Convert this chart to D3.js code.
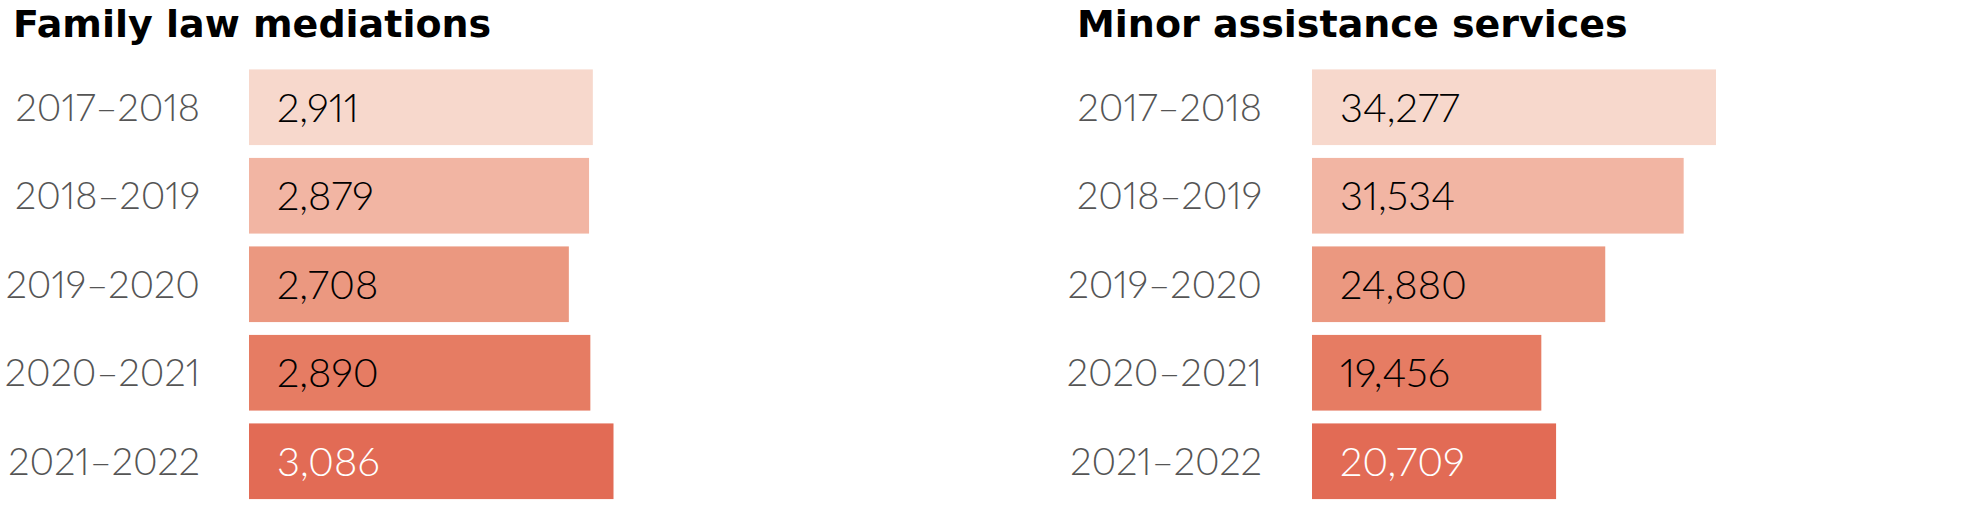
<!DOCTYPE html>
<html>
<head>
<meta charset="utf-8">
<script src="https://cdn.jsdelivr.net/npm/d3@7"></script>
<style>
  html, body { margin: 0; padding: 0; background: #fff; }
  svg { display: block; }
  .title { font-family: "DejaVu Sans", sans-serif; font-weight: 700; font-size: 38px; fill: #000; }
  .cat, .val { font-family: Lato, "Open Sans", sans-serif; font-weight: 300; font-size: 38px;
    font-variant-numeric: proportional-nums; font-feature-settings: "pnum" 1; }
  .cat { fill: #555; }
  .val { font-size: 40px; }
</style>
</head>
<body>
<svg id="chart"></svg>
<script>
const width = 1963;
const height = 510;

// data
const years = ["2017–2018", "2018–2019", "2019–2020", "2020–2021", "2021–2022"];
const mediations = [2911, 2879, 2708, 2890, 3086];
const minorServices = [34277, 31534, 24880, 19456, 20709];
const barColors = ["#f7d8cc", "#f2b5a3", "#eb9880", "#e67c63", "#e26b55"];
const labelColors = ["#000", "#000", "#000", "#000", "#fff"];

const svg = d3.select("#chart").attr("width", width).attr("height", height);

const y = d3.scaleBand()
	.domain(years)
	.range([63, 63 + 5 * 88.5])
	.paddingInner(0.145)
	.paddingOuter(0.0725);

const fmt = d3.format(",");

// one panel = title + bars + labels
function drawPanel(title, values, left, maxVal, maxPx) {
	const x = d3.scaleLinear().domain([0, maxVal]).range([left.bars, left.bars + maxPx]);
	const g = svg.append("g");

	g.append("text")
		.attr("class", "title")
		.attr("x", left.title)
		.attr("y", 37)
		.text(title);

	g.selectAll("rect")
		.data(values)
		.join("rect")
		.attr("x", x(0))
		.attr("y", (d, i) => y(years[i]))
		.attr("width", (d) => x(d) - x(0))
		.attr("height", y.bandwidth())
		.attr("fill", (d, i) => barColors[i]);

	g.selectAll(".cat")
		.data(years)
		.join("text")
		.attr("class", "cat")
		.attr("x", left.labels)
		.attr("y", (d) => y(d) + y.bandwidth() / 2)
		.attr("dy", "0.36em")
		.attr("text-anchor", "end")
		.text((d) => d);

	g.selectAll(".val")
		.data(values)
		.join("text")
		.attr("class", "val")
		.attr("x", x(0) + 28)
		.attr("y", (d, i) => y(years[i]) + y.bandwidth() / 2)
		.attr("dy", "0.36em")
		.attr("fill", (d, i) => labelColors[i])
		.text((d) => fmt(d));
}

drawPanel("Family law mediations", mediations, { title: 13, bars: 249, labels: 200 }, 3086, 364.5);
drawPanel("Minor assistance services", minorServices, { title: 1077, bars: 1312, labels: 1262 }, 34277, 404);
</script>
</body>
</html>
